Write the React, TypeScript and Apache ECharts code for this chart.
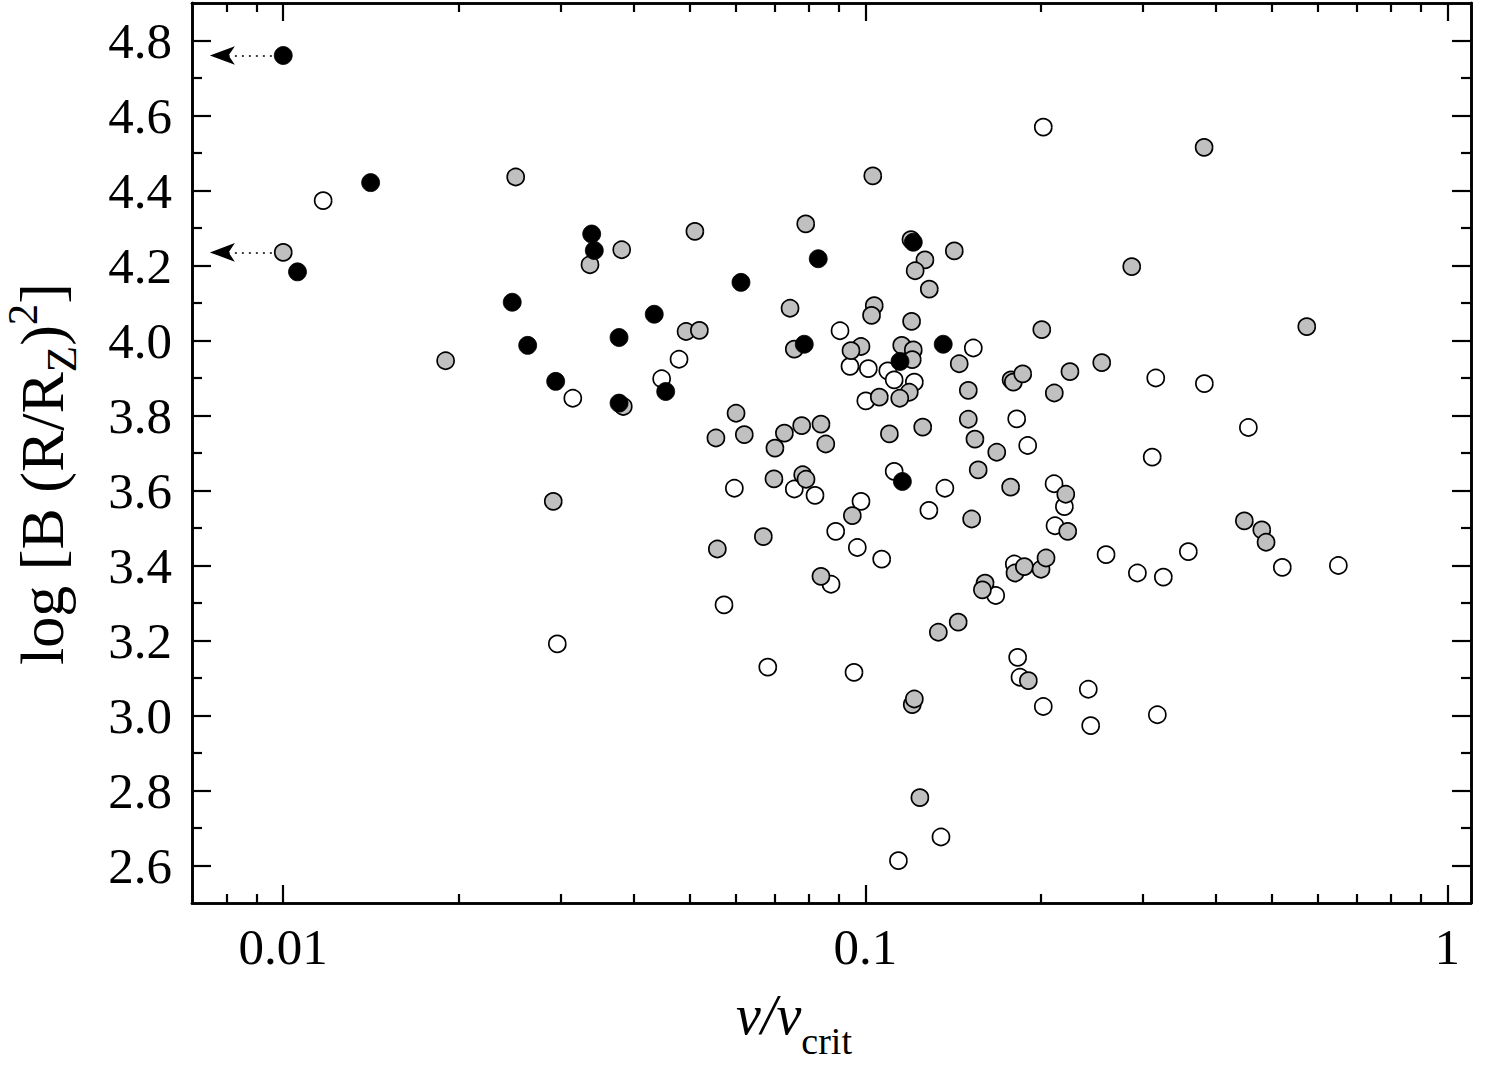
import React, { useEffect, useRef } from "react";
import * as echarts from "echarts";

const SERIF = '"Liberation Serif", "Times New Roman", Times, serif';

// Axis ranges and tick positions
const X_RANGE = [0.00697, 1.098];
const Y_RANGE = [2.5, 4.9];
const xMajorTicks = [0.01, 0.1, 1];
const xMinorTicks = [
  0.008, 0.009, 0.02, 0.03, 0.04, 0.05, 0.06, 0.07, 0.08, 0.09, 0.2, 0.3, 0.4,
  0.5, 0.6, 0.7, 0.8, 0.9,
];
const yMajorTicks = [2.6, 2.8, 3.0, 3.2, 3.4, 3.6, 3.8, 4.0, 4.2, 4.4, 4.6, 4.8];
const yMinorTicks = [2.7, 2.9, 3.1, 3.3, 3.5, 3.7, 3.9, 4.1, 4.3, 4.5, 4.7];

// [v/v_crit, log B (R/R_Z)^2]
const openStars: [number, number][] = [
  [0.01171, 4.373], [0.03144, 3.846], [0.02957, 3.191], [0.04786, 3.95],
  [0.04468, 3.898], [0.05957, 3.606], [0.07551, 3.604], [0.08196, 3.587],
  [0.08732, 3.35], [0.05718, 3.295], [0.06799, 3.129], [0.09048, 4.026],
  [0.09412, 3.931], [0.1012, 3.925], [0.1093, 3.919], [0.1121, 3.895],
  [0.1214, 3.889], [0.1002, 3.839], [0.1533, 3.98], [0.1121, 3.651],
  [0.137, 3.606], [0.09831, 3.571], [0.1286, 3.547], [0.08895, 3.491],
  [0.09689, 3.448], [0.1067, 3.417], [0.1675, 3.32], [0.182, 3.791],
  [0.1901, 3.72], [0.211, 3.618], [0.2198, 3.557], [0.2118, 3.506],
  [0.1803, 3.404], [0.2592, 3.429], [0.2934, 3.38], [0.2022, 4.569],
  [0.3155, 3.9], [0.3824, 3.885], [0.4551, 3.768], [0.3111, 3.689],
  [0.3589, 3.437], [0.5205, 3.395], [0.6497, 3.4], [0.3251, 3.369],
  [0.09563, 3.115], [0.1827, 3.155], [0.1844, 3.102], [0.2022, 3.024],
  [0.2416, 3.07], [0.2439, 2.973], [0.3175, 3.002], [0.1349, 2.676],
  [0.114, 2.613],
];

const grayStars: [number, number][] = [
  [0.01, 4.235], [0.02508, 4.436], [0.01901, 3.946], [0.03365, 4.202],
  [0.03815, 4.242], [0.05096, 4.291], [0.079, 4.311], [0.07425, 4.086],
  [0.04921, 4.024], [0.05187, 4.027], [0.03839, 3.824], [0.07551, 3.977],
  [0.05997, 3.806], [0.05538, 3.74], [0.06196, 3.749], [0.07261, 3.753],
  [0.07775, 3.773], [0.08391, 3.777], [0.06994, 3.713], [0.08552, 3.724],
  [0.06967, 3.631], [0.07806, 3.642], [0.07909, 3.63], [0.0291, 3.571],
  [0.06681, 3.477], [0.05569, 3.444], [0.08391, 3.371], [0.103, 4.439],
  [0.1198, 4.269], [0.1422, 4.239], [0.1266, 4.215], [0.1218, 4.186],
  [0.1288, 4.137], [0.2869, 4.197], [0.382, 4.515], [0.1036, 4.093],
  [0.1025, 4.067], [0.1201, 4.051], [0.09831, 3.984], [0.09449, 3.973],
  [0.1155, 3.987], [0.1209, 3.975], [0.1204, 3.949], [0.119, 3.862],
  [0.1057, 3.849], [0.1146, 3.846], [0.145, 3.938], [0.201, 4.029],
  [0.1503, 3.867], [0.178, 3.895], [0.1796, 3.889], [0.1864, 3.911],
  [0.2247, 3.917], [0.2548, 3.941], [0.2112, 3.86], [0.11, 3.751],
  [0.1255, 3.769], [0.1503, 3.79], [0.1543, 3.737], [0.1682, 3.702],
  [0.1563, 3.655], [0.1777, 3.609], [0.221, 3.59], [0.095, 3.533],
  [0.1523, 3.524], [0.2227, 3.491], [0.1808, 3.38], [0.1876, 3.397],
  [0.2004, 3.39], [0.2044, 3.42], [0.1606, 3.353], [0.1589, 3.335],
  [0.5734, 4.037], [0.4479, 3.519], [0.4799, 3.495], [0.4881, 3.462],
  [0.1335, 3.222], [0.1444, 3.249], [0.1204, 3.029], [0.1214, 3.044],
  [0.1906, 3.093], [0.1241, 2.781],
];

const blackStars: [number, number][] = [
  [0.01, 4.76], [0.01413, 4.421], [0.01058, 4.183], [0.02474, 4.102],
  [0.03388, 4.284], [0.03423, 4.24], [0.08301, 4.218], [0.06115, 4.155],
  [0.1209, 4.262], [0.04339, 4.07], [0.0263, 3.987], [0.03775, 4.008],
  [0.0454, 3.864], [0.02938, 3.891], [0.03775, 3.833], [0.07855, 3.99],
  [0.1361, 3.99], [0.1147, 3.944], [0.1158, 3.624],
];

// Upper limits on v/v_crit: arrows run from just left of the point to this value
const limitArrowStart = 0.00956;
const limitArrowEnd = 0.00748;
const grayLimit = grayStars[0];
const blackLimit = blackStars[0];

type Piece = { text: string; size: number; italic?: boolean; shift?: number };

function measureWidth(text: string, font: string): number {
  const c = document.createElement("canvas");
  const ctx = c.getContext("2d");
  if (!ctx) return text.length * 10;
  ctx.font = font;
  return ctx.measureText(text).width;
}

// A line of text made of pieces with their own size and baseline shift,
// centred on (x, y) where y is the main baseline.
function titleGroup(pieces: Piece[], x: number, y: number, rotation: number) {
  const widths = pieces.map((p) =>
    measureWidth(p.text, `${p.italic ? "italic " : ""}${p.size}px ${SERIF}`)
  );
  const total = widths.reduce((a, b) => a + b, 0);
  let cursor = -total / 2;
  const children = pieces.map((p, i) => {
    const el = {
      type: "text",
      x: cursor,
      y: (p.shift ?? 0) - 0.3375 * p.size,
      style: {
        text: p.text,
        fontSize: p.size,
        fontFamily: SERIF,
        fontStyle: p.italic ? "italic" : "normal",
        fill: "#000",
        align: "left",
        verticalAlign: "middle",
      },
    };
    cursor += widths[i];
    return el;
  });
  return { type: "group", x, y, rotation, silent: true, children };
}

const AXIS_COLOR = "#000";
const lineStyle = { color: AXIS_COLOR, width: 2.6 };
const tickStyle = { color: AXIS_COLOR, width: 2.2 };
const TICK_FONT = 51;

function xAxisDef(position: "top" | "bottom", major: boolean, labels: boolean) {
  return {
    type: "log",
    logBase: 10,
    min: X_RANGE[0],
    max: X_RANGE[1],
    position,
    splitLine: { show: false },
    axisLine: { show: true, onZero: false, lineStyle },
    axisTick: {
      show: true,
      inside: true,
      length: major ? 18 : 9,
      lineStyle: tickStyle,
      customValues: major ? xMajorTicks : xMinorTicks,
    },
    axisLabel: labels
      ? {
          show: true,
          customValues: xMajorTicks,
          margin: 18,
          color: "#000",
          fontFamily: SERIF,
          fontSize: TICK_FONT,
          formatter: (v: number) => String(+Number(v).toPrecision(3)),
        }
      : { show: false },
  };
}

function yAxisDef(position: "left" | "right", major: boolean, labels: boolean) {
  return {
    type: "value",
    min: Y_RANGE[0],
    max: Y_RANGE[1],
    position,
    splitLine: { show: false },
    axisLine: { show: true, onZero: false, lineStyle },
    axisTick: {
      show: true,
      inside: true,
      length: major ? 19 : 10,
      lineStyle: tickStyle,
      customValues: major ? yMajorTicks : yMinorTicks,
    },
    axisLabel: labels
      ? {
          show: true,
          customValues: yMajorTicks,
          margin: 20,
          color: "#000",
          fontFamily: SERIF,
          fontSize: TICK_FONT,
          formatter: (v: number) => Number(v).toFixed(1),
        }
      : { show: false },
  };
}

function limitArrow(y: number) {
  return [{ coord: [limitArrowStart, y] }, { coord: [limitArrowEnd, y] }];
}

const markerBase = {
  type: "scatter",
  symbol: "circle",
  symbolSize: 17,
  xAxisIndex: 0,
  yAxisIndex: 0,
  emphasis: { disabled: true },
  silent: true,
};

const arrowMarkLine = (y: number) => ({
  silent: true,
  symbol: ["none", "arrow"],
  symbolSize: [14, 25],
  label: { show: false },
  emphasis: { disabled: true },
  lineStyle: { color: "#000", type: [2, 5], width: 1.6, opacity: 1 },
  data: [limitArrow(y)],
});

export default function App() {
  const ref = useRef<HTMLDivElement>(null);

  useEffect(() => {
    if (!ref.current) return;
    const chart = echarts.init(ref.current, undefined, { renderer: "svg" });

    const yTitle = titleGroup(
      [
        { text: "log [B (R/R", size: 62 },
        { text: "Z", size: 43, shift: 13 },
        { text: ")", size: 62 },
        { text: "2", size: 43, shift: -26 },
        { text: "]", size: 62 },
      ],
      63,
      474,
      Math.PI / 2
    );
    const xTitle = titleGroup(
      [
        { text: "v/v", size: 56, italic: true },
        { text: "crit", size: 38, shift: 20 },
      ],
      794,
      1034,
      0
    );

    chart.setOption({
      animation: false,
      backgroundColor: "#fff",
      grid: {
        left: 192,
        top: 3,
        right: 29,
        bottom: 162,
        containLabel: false,
        outerBoundsMode: "none",
      },
      xAxis: [
        xAxisDef("bottom", true, true),
        xAxisDef("bottom", false, false),
        xAxisDef("top", true, false),
        xAxisDef("top", false, false),
      ],
      yAxis: [
        yAxisDef("left", true, true),
        yAxisDef("left", false, false),
        yAxisDef("right", true, false),
        yAxisDef("right", false, false),
      ],
      series: [
        {
          ...markerBase,
          name: "open",
          z: 2,
          data: openStars,
          itemStyle: { color: "#fff", borderColor: "#000", borderWidth: 1.7, opacity: 1 },
        },
        {
          ...markerBase,
          name: "gray",
          z: 3,
          data: grayStars,
          itemStyle: { color: "#c0c0c0", borderColor: "#000", borderWidth: 1.7, opacity: 1 },
          markLine: arrowMarkLine(grayLimit[1]),
        },
        {
          ...markerBase,
          name: "black",
          z: 4,
          symbolSize: 18,
          data: blackStars,
          itemStyle: { color: "#000", borderColor: "#000", borderWidth: 0.8, opacity: 1 },
          markLine: arrowMarkLine(blackLimit[1]),
        },
      ],
      graphic: [yTitle, xTitle],
    });

    return () => chart.dispose();
  }, []);

  return (
    <div
      ref={ref}
      style={{ position: "absolute", left: 0, top: 0, width: 1500, height: 1065, background: "#fff" }}
    />
  );
}
